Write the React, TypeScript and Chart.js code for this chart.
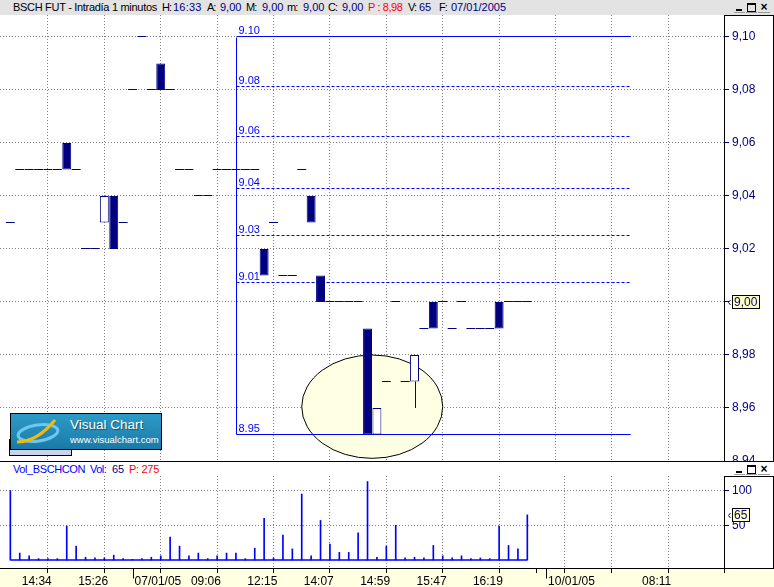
import React, { useEffect, useRef } from 'react';
import { Chart, registerables } from 'chart.js';

Chart.register(...registerables);

// ---------------- data ----------------
const opens = [9.03, 9.05, 9.05, 9.05, 9.05, 9.05, 9.06, 9.05, 9.02, 9.02, 9.03, 9.04, 9.03, 9.08, 9.10, 9.08, 9.09, 9.08, 9.05, 9.05, 9.04, 9.04, 9.05, 9.05, 9.05, 9.05, 9.05, 9.02, 9.03, 9.01, 9.01, 9.05, 9.04, 9.01, 9.00, 9.00, 9.00, 9.00, 8.99, 8.95, 8.97, 9.00, 8.97, 8.97, 8.99, 9.00, 9.00, 8.99, 9.00, 8.99, 8.99, 8.99, 9.00, 9.00, 9.00, 9.00];
const closes = [9.03, 9.05, 9.05, 9.05, 9.05, 9.05, 9.05, 9.05, 9.02, 9.02, 9.04, 9.02, 9.03, 9.08, 9.10, 9.08, 9.08, 9.08, 9.05, 9.05, 9.04, 9.04, 9.05, 9.05, 9.05, 9.05, 9.05, 9.01, 9.03, 9.01, 9.01, 9.05, 9.03, 9.00, 9.00, 9.00, 9.00, 9.00, 8.95, 8.96, 8.97, 9.00, 8.97, 8.98, 8.99, 8.99, 9.00, 8.99, 9.00, 8.99, 8.99, 8.99, 8.99, 9.00, 9.00, 9.00];
const highs = [9.03, 9.05, 9.05, 9.05, 9.05, 9.05, 9.06, 9.05, 9.02, 9.02, 9.04, 9.04, 9.03, 9.08, 9.10, 9.08, 9.09, 9.08, 9.05, 9.05, 9.04, 9.04, 9.05, 9.05, 9.05, 9.05, 9.05, 9.02, 9.03, 9.01, 9.01, 9.05, 9.04, 9.01, 9.00, 9.00, 9.00, 9.00, 8.99, 8.96, 8.97, 9.00, 8.97, 8.98, 8.99, 9.00, 9.00, 8.99, 9.00, 8.99, 8.99, 8.99, 9.00, 9.00, 9.00, 9.00];
const lows = [9.03, 9.05, 9.05, 9.05, 9.05, 9.05, 9.05, 9.05, 9.02, 9.02, 9.03, 9.02, 9.03, 9.08, 9.10, 9.08, 9.08, 9.08, 9.05, 9.05, 9.04, 9.04, 9.05, 9.05, 9.05, 9.05, 9.05, 9.01, 9.03, 9.01, 9.01, 9.05, 9.03, 9.00, 9.00, 9.00, 9.00, 9.00, 8.95, 8.95, 8.97, 9.00, 8.97, 8.96, 8.99, 8.99, 9.00, 8.99, 9.00, 8.99, 8.99, 8.99, 8.99, 9.00, 9.00, 9.00];
const volumes = [100, 10, 6, 2, 2, 2, 49, 20, 4, 3, 3, 7, 2, 1, 2, 4, 6, 33, 20, 6, 10, 2, 6, 10, 10, 2, 17, 60, 3, 36, 16, 95, 6, 57, 23, 11, 11, 39, 113, 4, 20, 50, 3, 4, 3, 21, 6, 3, 6, 2, 3, 2, 49, 21, 16, 65];

const priceTicks = [8.94, 8.96, 8.98, 9.0, 9.02, 9.04, 9.06, 9.08, 9.1];
const volTicks = [50, 100];
const gridTicks = [1, 7, 13, 19, 25, 31, 37, 43, 49, 55, 61, 67, 73];
const xTickPositions = [1, 7, 13, 19, 25, 31, 37, 43, 49, 55, 57, 61, 67, 73];
const xTickLabels = ['14:34', '15:26', '07/01/05', '09:06', '12:15', '14:07', '14:59', '15:47', '16:19', '', '10/01/05', '', '08:11', ''];
const daySeparators = [13, 57];

// Fibonacci drawing
const fibHigh = 9.1;
const fibLow = 8.95;
const fibRatios = [0, 0.125, 0.25, 0.382, 0.5, 0.618, 1];
const fibLabels = ['9.10', '9.08', '9.06', '9.04', '9.03', '9.01', '8.95'];
const fibStart = 24;
const fibEnd = 66;

// highlight ellipse (index range, price range)
const ellipseX = [31, 46];
const ellipseY = [8.941, 8.98];

const lastPrice = 9.0;
const lastVolume = 65;

// header text
const headerSegments = [
  { t: 'BSCH FUT - Intradía 1 minutos', x: 13, c: '#000000', ls: -0.3 },
  { t: 'H:', x: 162, c: '#000000', ls: -1 },
  { t: '16:33', x: 173, c: '#000080', ls: 0.2 },
  { t: 'A:', x: 207, c: '#000000', ls: -1 },
  { t: '9,00', x: 220, c: '#000080' },
  { t: 'M:', x: 246, c: '#000000', ls: -1 },
  { t: '9,00', x: 262, c: '#000080' },
  { t: 'm:', x: 287, c: '#000000', ls: -1 },
  { t: '9,00', x: 303, c: '#000080' },
  { t: 'C:', x: 328, c: '#000000', ls: -1 },
  { t: '9,00', x: 342, c: '#000080' },
  { t: 'P : 8,98', x: 368, c: '#FF0000', ls: -0.4 },
  { t: 'V:', x: 408, c: '#000000', ls: -1 },
  { t: '65', x: 419, c: '#000080' },
  { t: 'F:', x: 439, c: '#000000', ls: -1 },
  { t: '07/01/2005', x: 451, c: '#000080' },
];
const volHeaderSegments = [
  { t: 'Vol_BSCHCON', x: 13, c: '#0000FF', ls: -0.4 },
  { t: 'Vol:', x: 90, c: '#0000FF', ls: -0.5 },
  { t: '65', x: 112, c: '#000080', ls: 0 },
  { t: 'P: 275', x: 129, c: '#FF0000', ls: -0.3 },
];

// ---------------- styling ----------------
const FONT = "'Liberation Sans', Arial, sans-serif";
const NAVY = '#000080';
const BLUE = '#0000FF';
const GRID = '#808080';
const X_MIN = -1.1;
const X_MAX = 76.03;
const PRICE_MIN = 8.94;
const PRICE_MAX = 9.1083;
const VOL_MIN = -11.5;
const VOL_MAX = 121;
const RIGHT_W = 49;

const zeroPad = (s: any) => {
  s.paddingTop = 0;
  s.paddingBottom = 0;
  s.paddingLeft = 0;
  s.paddingRight = 0;
};

const marker = (ctx: CanvasRenderingContext2D, right: number, py: number, text: string, w: number) => {
  const cy = Math.round(py);
  ctx.strokeStyle = NAVY;
  ctx.lineWidth = 1;
  ctx.beginPath();
  ctx.moveTo(right + 5.5, cy - 2);
  ctx.lineTo(right + 3.5, cy + 0.5);
  ctx.lineTo(right + 5.5, cy + 3);
  ctx.stroke();
  const bx = right + 7;
  ctx.fillStyle = '#FFFFC0';
  ctx.fillRect(bx, cy - 7, w, 14);
  ctx.strokeStyle = '#000';
  ctx.strokeRect(bx + 0.5, cy - 6.5, w - 1, 13);
  ctx.fillStyle = NAVY;
  ctx.font = `12px ${FONT}`;
  ctx.textAlign = 'left';
  ctx.textBaseline = 'middle';
  ctx.fillText(text, bx + 2, cy + 1);
};

const pricePlugin = {
  id: 'pricePlugin',
  beforeDatasetsDraw(chart: any) {
    const { ctx, scales } = chart;
    const x = scales.x;
    const y = scales.y;
    ctx.save();
    const ex0 = x.getPixelForValue(ellipseX[0]);
    const ex1 = x.getPixelForValue(ellipseX[1]);
    const ey0 = y.getPixelForValue(ellipseY[1]);
    const ey1 = y.getPixelForValue(ellipseY[0]);
    ctx.beginPath();
    ctx.ellipse((ex0 + ex1) / 2, (ey0 + ey1) / 2, (ex1 - ex0) / 2, (ey1 - ey0) / 2, 0, 0, Math.PI * 2);
    ctx.fillStyle = '#FFFFE4';
    ctx.fill();
    ctx.strokeStyle = '#000';
    ctx.lineWidth = 1;
    ctx.stroke();
    const fx0 = Math.round(x.getPixelForValue(fibStart)) + 0.5;
    const fx1 = x.getPixelForValue(fibEnd);
    ctx.strokeStyle = BLUE;
    ctx.lineWidth = 1;
    ctx.beginPath();
    ctx.moveTo(fx0, Math.round(y.getPixelForValue(fibHigh)) + 0.5);
    ctx.lineTo(fx0, Math.round(y.getPixelForValue(fibLow)) + 0.5);
    ctx.stroke();
    ctx.font = `11px ${FONT}`;
    ctx.textAlign = 'left';
    ctx.textBaseline = 'alphabetic';
    fibRatios.forEach((r, k) => {
      const p = fibHigh - r * (fibHigh - fibLow);
      const py = Math.round(y.getPixelForValue(p) - 0.5) + 0.5;
      ctx.setLineDash(r === 0 || r === 1 ? [] : [3, 2]);
      ctx.beginPath();
      ctx.moveTo(fx0, py);
      ctx.lineTo(fx1, py);
      ctx.stroke();
      ctx.fillStyle = BLUE;
      ctx.fillText(fibLabels[k], fx0 + 2, py - 3);
    });
    ctx.setLineDash([]);
    ctx.restore();
  },
  afterDatasetsDraw(chart: any) {
    const { ctx, scales } = chart;
    const y = scales.y;
    const meta = chart.getDatasetMeta(0);
    ctx.save();
    ctx.fillStyle = NAVY;
    ctx.strokeStyle = NAVY;
    ctx.lineWidth = 1;
    meta.data.forEach((el: any, i: number) => {
      const w = el.width;
      const o = opens[i];
      const c = closes[i];
      if (o === c) {
        const py = Math.round(y.getPixelForValue(o) - 0.5 + 1e-6);
        ctx.fillRect(el.x - w / 2, py, w, 1);
      }
      const cx = Math.round(el.x) + 0.5;
      const bodyLow = Math.min(o, c);
      const bodyHigh = Math.max(o, c);
      if (lows[i] < bodyLow) {
        ctx.beginPath();
        ctx.moveTo(cx, y.getPixelForValue(bodyLow));
        ctx.lineTo(cx, y.getPixelForValue(lows[i]));
        ctx.stroke();
      }
      if (highs[i] > bodyHigh) {
        ctx.beginPath();
        ctx.moveTo(cx, y.getPixelForValue(bodyHigh));
        ctx.lineTo(cx, y.getPixelForValue(highs[i]));
        ctx.stroke();
      }
    });
    ctx.restore();
  },
  afterDraw(chart: any) {
    const { ctx, chartArea, width, height, scales } = chart;
    ctx.save();
    ctx.strokeStyle = '#000';
    ctx.lineWidth = 1;
    const r = Math.round(chartArea.right) - 0.5;
    ctx.beginPath();
    ctx.moveTo(r, 0);
    ctx.lineTo(r, height);
    ctx.moveTo(r, 0.5);
    ctx.lineTo(width, 0.5);
    ctx.moveTo(width - 0.5, 0);
    ctx.lineTo(width - 0.5, height);
    ctx.stroke();
    marker(ctx, chartArea.right, scales.y.getPixelForValue(lastPrice), lastPrice.toFixed(2).replace('.', ','), 28);
    ctx.restore();
  },
};

const volPlugin = {
  id: 'volPlugin',
  beforeDraw(chart: any) {
    const { ctx, chartArea, width, height } = chart;
    ctx.save();
    ctx.fillStyle = '#FFFFE1';
    ctx.fillRect(0, chartArea.bottom, width, height - chartArea.bottom);
    ctx.restore();
  },
  afterDraw(chart: any) {
    const { ctx, chartArea, width, scales } = chart;
    ctx.save();
    ctx.strokeStyle = '#000';
    ctx.lineWidth = 1;
    const r = Math.round(chartArea.right) - 0.5;
    const b = Math.round(chartArea.bottom) + 0.5;
    ctx.beginPath();
    ctx.moveTo(0, b);
    ctx.lineTo(width, b);
    ctx.moveTo(r, 0);
    ctx.lineTo(r, b);
    ctx.moveTo(r, 0.5);
    ctx.lineTo(width, 0.5);
    ctx.moveTo(width - 0.5, 0);
    ctx.lineTo(width - 0.5, b);
    ctx.stroke();
    daySeparators.forEach((d) => {
      const px = Math.round(scales.x.getPixelForValue(d)) + 0.5;
      ctx.beginPath();
      ctx.moveTo(px, b);
      ctx.lineTo(px, b + 10);
      ctx.stroke();
    });
    marker(ctx, chartArea.right, scales.y.getPixelForValue(lastVolume), String(lastVolume), 18);
    ctx.restore();
  },
};

function priceConfig(): any {
  return {
    type: 'bar',
    data: {
      datasets: [
        {
          data: opens.map((o, i) => ({ x: i, y: [Math.min(o, closes[i]), Math.max(o, closes[i])] })),
          backgroundColor: opens.map((o, i) => (closes[i] > o ? '#FFFFFF' : NAVY)),
          borderColor: NAVY,
          borderWidth: opens.map((o, i) => (closes[i] === o ? 0 : 1)),
          borderSkipped: false,
          barPercentage: 1,
          categoryPercentage: 0.95,
        },
      ],
    },
    options: {
      animation: false,
      responsive: false,
      maintainAspectRatio: false,
      layout: { padding: 0, autoPadding: false },
      events: [],
      plugins: { legend: { display: false }, tooltip: { enabled: false } },
      scales: {
        x: {
          type: 'linear',
          min: X_MIN,
          max: X_MAX,
          offset: false,
          afterBuildTicks: (s: any) => {
            s.ticks = gridTicks.map((v) => ({ value: v }));
          },
          ticks: { display: false },
          grid: { color: GRID, lineWidth: 1, drawTicks: false },
          border: { display: false, dash: [1, 2] },
          afterFit: (s: any) => {
            s.height = 0;
            zeroPad(s);
          },
        },
        y: {
          position: 'right',
          min: PRICE_MIN,
          max: PRICE_MAX,
          afterBuildTicks: (s: any) => {
            s.ticks = priceTicks.map((v) => ({ value: v }));
          },
          ticks: {
            color: NAVY,
            font: { family: FONT, size: 12 },
            padding: 3,
            autoSkip: false,
            callback: (v: any) => Number(v).toFixed(2).replace('.', ','),
          },
          grid: { color: GRID, tickColor: NAVY, tickLength: 4, lineWidth: 1 },
          border: { display: false, dash: [1, 2] },
          afterFit: (s: any) => {
            s.width = RIGHT_W;
            zeroPad(s);
          },
        },
      },
    },
    plugins: [pricePlugin],
  };
}

function volConfig(): any {
  return {
    type: 'bar',
    data: {
      datasets: [
        {
          type: 'bar',
          data: volumes.map((v, i) => ({ x: i, y: v })),
          backgroundColor: BLUE,
          borderWidth: 0,
          barThickness: 1,
        },
        {
          type: 'line',
          data: volumes.map((_, i) => ({ x: i, y: 0 })),
          borderColor: BLUE,
          borderWidth: 1.5,
          pointRadius: 0,
          fill: false,
        },
      ],
    },
    options: {
      animation: false,
      responsive: false,
      maintainAspectRatio: false,
      layout: { padding: 0, autoPadding: false },
      events: [],
      plugins: { legend: { display: false }, tooltip: { enabled: false } },
      scales: {
        x: {
          type: 'linear',
          min: X_MIN,
          max: X_MAX,
          offset: false,
          afterBuildTicks: (s: any) => {
            s.ticks = xTickPositions.map((v) => ({ value: v }));
          },
          ticks: {
            autoSkip: false,
            maxRotation: 0,
            minRotation: 0,
            align: 'start',
            labelOffset: 2,
            padding: 1,
            color: '#000000',
            font: { family: FONT, size: 12 },
            callback: (v: any) => {
              const k = xTickPositions.indexOf(Number(v));
              return k >= 0 ? xTickLabels[k] : '';
            },
          },
          grid: {
            color: (c: any) => (c.tick && gridTicks.includes(c.tick.value) ? GRID : 'rgba(0,0,0,0)'),
            tickColor: '#000000',
            tickLength: 5,
            lineWidth: 1,
          },
          border: { display: false, dash: [1, 2] },
          afterFit: (s: any) => {
            s.height = 19;
            zeroPad(s);
          },
        },
        y: {
          position: 'right',
          min: VOL_MIN,
          max: VOL_MAX,
          afterBuildTicks: (s: any) => {
            s.ticks = volTicks.map((v) => ({ value: v }));
          },
          ticks: {
            color: NAVY,
            font: { family: FONT, size: 12 },
            padding: 3,
            autoSkip: false,
            callback: (v: any) => String(v),
          },
          grid: { color: GRID, tickColor: NAVY, tickLength: 4, lineWidth: 1 },
          border: { display: false, dash: [1, 2] },
          afterFit: (s: any) => {
            s.width = RIGHT_W;
            zeroPad(s);
          },
        },
      },
    },
    plugins: [volPlugin],
  };
}

const WinButtons = ({ top }: { top: number }) => (
  <div style={{ position: 'absolute', left: 734, top, width: 37, height: 11 }}>
    <div style={{ position: 'absolute', left: 0, top: 0, width: 11, height: 10, borderBottom: '1px solid #9A9A9A' }}>
      <div style={{ position: 'absolute', left: 2, top: 7, width: 6, height: 2, background: '#000' }} />
    </div>
    <div style={{ position: 'absolute', left: 12, top: 0, width: 11, height: 10, borderBottom: '1px solid #9A9A9A' }}>
      <div
        style={{
          position: 'absolute',
          left: 1,
          top: 1,
          width: 7,
          height: 6,
          border: '1px solid #000',
          borderTopWidth: 2,
        }}
      />
    </div>
    <div
      style={{
        position: 'absolute',
        left: 24,
        top: 0,
        width: 12,
        height: 10,
        borderBottom: '1px solid #9A9A9A',
        fontSize: 12,
        lineHeight: '10px',
        textAlign: 'center',
        fontWeight: 'bold',
        fontFamily: FONT,
        color: '#000',
      }}
    >
      ×
    </div>
  </div>
);

export default function App() {
  const priceRef = useRef<HTMLCanvasElement>(null);
  const volRef = useRef<HTMLCanvasElement>(null);

  useEffect(() => {
    const pc = new Chart(priceRef.current as HTMLCanvasElement, priceConfig());
    const vc = new Chart(volRef.current as HTMLCanvasElement, volConfig());
    return () => {
      pc.destroy();
      vc.destroy();
    };
  }, []);

  const textBase: React.CSSProperties = {
    position: 'absolute',
    fontFamily: FONT,
    fontSize: 11,
    whiteSpace: 'nowrap',
  };

  return (
    <div
      style={{
        position: 'fixed',
        left: 0,
        top: 0,
        width: 774,
        height: 587,
        background: '#FFFFFF',
        overflow: 'hidden',
      }}
    >
      <div style={{ position: 'absolute', left: 0, top: 0, width: 774, height: 15, background: '#E3E3E3' }}>
        {headerSegments.map((s, k) => (
          <span
            key={k}
            style={{ ...textBase, left: s.x, top: 0, lineHeight: '15px', color: s.c, letterSpacing: s.ls ?? 0 }}
          >
            {s.t}
          </span>
        ))}
        <WinButtons top={2} />
      </div>

      <canvas
        ref={priceRef}
        width={774}
        height={446}
        style={{ position: 'absolute', left: 0, top: 15, width: 774, height: 446 }}
      />

      <div
        style={{
          position: 'absolute',
          left: 9,
          top: 439,
          width: 63,
          height: 17,
          background: '#C9D4EC',
          border: '1px solid #000',
          boxSizing: 'border-box',
        }}
      />
      <div
        style={{
          position: 'absolute',
          left: 10,
          top: 413,
          width: 152,
          height: 37,
          background: 'linear-gradient(#2E9BC7, #1A7AA7)',
          border: '1px solid #000',
          boxSizing: 'border-box',
          overflow: 'hidden',
        }}
      >
        <svg width={60} height={35} style={{ position: 'absolute', left: 0, top: 0 }}>
          <ellipse cx={27} cy={19} rx={20} ry={8} fill="none" stroke="#6CC8F0" strokeWidth={3} transform="rotate(-8 27 19)" />
          <path d="M6 28 Q 26 28 44 6" fill="none" stroke="#F6B90C" strokeWidth={3} />
        </svg>
        <div
          style={{
            position: 'absolute',
            left: 59,
            top: 3,
            color: '#FFFFFF',
            fontFamily: FONT,
            fontSize: 13.5,
            lineHeight: '15px',
            whiteSpace: 'nowrap',
            textShadow: '1px 1px 1px rgba(0,0,0,0.45)',
          }}
        >
          Visual Chart
        </div>
        <div
          style={{
            position: 'absolute',
            left: 59,
            top: 20,
            color: '#FFFFFF',
            fontFamily: FONT,
            fontSize: 9.5,
            lineHeight: '11px',
            whiteSpace: 'nowrap',
          }}
        >
          www.visualchart.com
        </div>
      </div>

      <div style={{ position: 'absolute', left: 0, top: 461, width: 774, height: 1, background: '#000' }} />

      {volHeaderSegments.map((s, k) => (
        <span key={k} style={{ ...textBase, left: s.x, top: 462, lineHeight: '14px', color: s.c, letterSpacing: s.ls }}>
          {s.t}
        </span>
      ))}
      <WinButtons top={464} />

      <canvas
        ref={volRef}
        width={774}
        height={111}
        style={{ position: 'absolute', left: 0, top: 476, width: 774, height: 111 }}
      />
    </div>
  );
}
